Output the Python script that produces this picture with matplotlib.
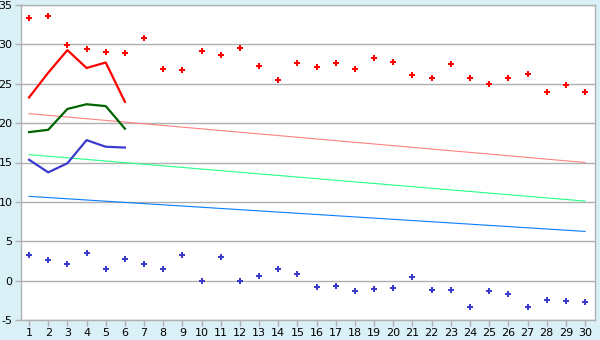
import matplotlib
matplotlib.use("Agg")
import matplotlib.pyplot as plt

plt.rcParams['axes.unicode_minus'] = False

# дни месяца
days = list(range(1, 31))
days_short = [1, 2, 3, 4, 5, 6]

# точки: максимумы и минимумы
max_pts = [33.3, 33.6, 29.9, 29.4, 29.0, 28.85, 30.75, 26.9, 26.7, 29.1,
           28.6, 29.5, 27.2, 25.5, 27.6, 27.1, 27.6, 26.9, 28.3, 27.7,
           26.05, 25.7, 27.45, 25.7, 25.0, 25.7, 26.2, 24.0, 24.8, 24.0]
min_pts = [3.2, 2.56, 2.05, 3.5, 1.42, 2.8, 2.05, 1.42, 3.2, -0.1,
           2.95, -0.1, 0.65, 1.42, 0.9, -0.87, -0.74, -1.38, -1.12, -0.99,
           0.4, -1.25, -1.25, -3.4, -1.38, -1.76, -3.4, -2.4, -2.64, -2.77]

# линии за первые дни
line_max = [23.26, 26.4, 29.27, 27.0, 27.7, 22.7]
line_avg = [18.86, 19.15, 21.8, 22.4, 22.16, 19.3]
line_min = [15.35, 13.75, 14.9, 17.84, 17.0, 16.9]

# тренды (начало и конец)
trend_days = [1, 30]
trend_max = [21.2, 15.0]
trend_avg = [16.0, 10.1]
trend_min = [10.7, 6.25]

bg = '#daf0f7'
grid = '#b0b0b0'

fig = plt.figure(figsize=(6, 3.4), dpi=100, facecolor=bg)
ax = fig.add_axes([21 / 600, 1 - 320 / 340, 574 / 600, 315 / 340])
ax.set_facecolor('white')

ax.plot(trend_days, trend_max, color='#ff8080', lw=0.8)
ax.plot(trend_days, trend_avg, color='#22ff88', lw=0.8)
ax.plot(trend_days, trend_min, color='#0a7cff', lw=0.8)

ax.plot(days_short, line_max, color='#ff0000', lw=1.6)
ax.plot(days_short, line_avg, color='#006400', lw=1.6)
ax.plot(days_short, line_min, color='#3a3acc', lw=1.6)

ax.scatter(days, max_pts, marker='P', s=20, color='#ff0000', linewidths=0)
ax.scatter(days, min_pts, marker='P', s=20, color='#3a3acc', linewidths=0)

ax.set_xlim(0.58, 30.52)
ax.set_ylim(-5, 35)
ax.set_xticks(days)
ax.set_yticks(range(-5, 36, 5))
ax.yaxis.grid(True, color=grid, lw=1)
ax.set_axisbelow(True)
for s in ax.spines.values():
    s.set_color(grid)
    s.set_linewidth(1)
ax.tick_params(colors=grid, labelcolor='black', labelsize=8, length=4, width=1, pad=2)

fig.savefig('out.png', dpi=100, facecolor=bg)
